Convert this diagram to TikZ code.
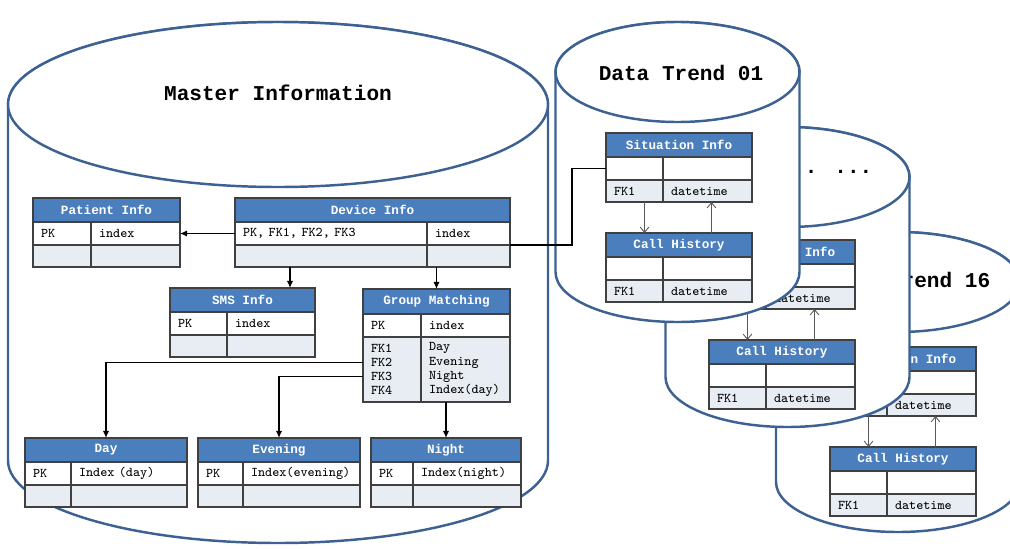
\documentclass[tikz,border=0pt]{standalone}
\usepackage{fontspec}
\newfontfamily\erdfont{Liberation Mono}
\usetikzlibrary{arrows.meta,calc}

\definecolor{headblue}{HTML}{4A7EBD}
\definecolor{rowgray}{HTML}{E8ECF3}
\definecolor{drumblue}{HTML}{3C6192}
\definecolor{gridgray}{HTML}{404040}

\newlength{\pxu}\setlength{\pxu}{0.02cm}
\newlength{\cellpad}\setlength{\cellpad}{8\pxu}

\tikzset{
  drum/.style={draw=drumblue, line width=1.4pt, fill=white},
  tabhead/.style={draw=gridgray, line width=0.6pt, fill=headblue, text=white,
    font=\erdfont\fontsize{7.2}{8}\selectfont\bfseries, minimum height=24\pxu,
    inner sep=0pt, outer sep=0pt, anchor=north west},
  tabcell/.style={draw=gridgray, line width=0.6pt, fill=white,
    font=\ttfamily\fontsize{7.6}{8}\selectfont, minimum height=23\pxu,
    inner xsep=\cellpad, inner ysep=0pt, outer sep=0pt, align=left, anchor=north west},
  rowfill/.style={fill=rowgray, minimum height=22\pxu},
  title/.style={font=\erdfont\fontsize{12}{14}\selectfont\bfseries},
  link/.style={draw=black, line width=0.85pt, -{Latex[length=4pt,width=3.6pt]}},
  plainlink/.style={draw=black, line width=0.85pt},
  fkarrow/.style={draw=black!65, line width=0.5pt, -{Straight Barb[length=3pt,width=5pt]}},
}

% centre x, top centre y, height, x radius, y radius
\newcommand{\drum}[5]{%
  \filldraw[drum] ({#1-#4},#2) -- ({#1-#4},{#2+#3})
    arc[start angle=180, end angle=360, x radius=#4\pxu, y radius=#5\pxu]
    -- ({#1+#4},#2)
    arc[start angle=0, end angle=180, x radius=#4\pxu, y radius=#5\pxu] -- cycle;
  \draw[drum] (#1,#2) ellipse[x radius=#4\pxu, y radius=#5\pxu];
}

% name, position, width, key width, title, row 1 key, row 1 value, row 2 key, row 2 value
\newcommand{\dbtable}[9]{%
  \pgfmathsetlengthmacro{\tabw}{#3*\pxu}%
  \pgfmathsetlengthmacro{\keyw}{#4*\pxu-2*\cellpad}%
  \pgfmathsetlengthmacro{\valw}{(#3-#4)*\pxu-2*\cellpad}%
  \node[tabhead, minimum width=\tabw] (#1) at #2 {#5};
  \node[tabcell, text width=\keyw] (#1-k1) at (#1.south west) {#6};
  \node[tabcell, text width=\valw] (#1-v1) at (#1-k1.north east) {#7};
  \node[tabcell, rowfill, text width=\keyw] (#1-k2) at (#1-k1.south west) {#8};
  \node[tabcell, rowfill, text width=\valw] (#1-v2) at (#1-k2.north east) {#9};
}

% prefix, drum centre x, drum top y, title x, title y, title, table shift
\newcommand{\trend}[7]{%
  \drum{#2}{#3}{200}{122}{50}
  \node[title] (#1-title) at (#4,#5) {#6};
  \begin{scope}[shift={#7}]
    \dbtable{#1-sit}{(606,133)}{146}{57}{Situation Info}{}{}{FK1}{datetime}
    \dbtable{#1-call}{(606,233)}{146}{57}{Call History}{}{}{FK1}{datetime}
  \end{scope}
  \draw[fkarrow] ([xshift=10\pxu]#1-sit-k2.south) -- ([xshift=10\pxu]#1-sit-k2.south |- #1-call.north);
  \draw[fkarrow] ([xshift=4\pxu]#1-sit-v2.south |- #1-call.north) -- ([xshift=4\pxu]#1-sit-v2.south);
}

\begin{document}
\begin{tikzpicture}[x=\pxu, y=-\pxu]
  \useasboundingbox (0,0) rectangle (1010,548);

  % master database
  \drum{278}{104.5}{356}{270}{82.5}
  \node[title] (mastertitle) at (278,93) {Master Information};

  \dbtable{pat}{(33,198)}{147}{58}{Patient Info}{PK}{index}{}{}
  \dbtable{dev}{(235,198)}{275}{192}{Device Info}{PK, FK1, FK2, FK3}{index}{}{}
  \dbtable{sms}{(170,288)}{145}{57}{SMS Info}{PK}{index}{}{}

  \node[tabhead, minimum width=147\pxu, minimum height=25\pxu] (grp) at (363,289) {Group Matching};
  \node[tabcell, text width=42\pxu] (grp-k1) at (grp.south west) {PK};
  \node[tabcell, text width=73\pxu] (grp-v1) at (grp-k1.north east) {index};
  \node[tabcell, rowfill, minimum height=65\pxu, text width=42\pxu] (grp-k2) at (grp-k1.south west) {FK1\\FK2\\FK3\\FK4};
  \node[tabcell, rowfill, minimum height=65\pxu, text width=73\pxu] (grp-v2) at (grp-k2.north east) {Day\\Evening\\Night\\ Index(day)};

  \dbtable{day}{(25,438)}{162}{46}{Day}{PK}{Index (day)}{}{}
  \dbtable{eve}{(198,438)}{162}{45}{Evening}{PK}{Index(evening)}{}{}
  \dbtable{night}{(371,438)}{150}{42}{Night}{PK}{Index(night)}{}{}

  \draw[link] (dev-k1.west) -- (pat-v1.east);
  \draw[link] (dev-k2.south -| 290,0) -- (sms.north -| 290,0);
  \draw[link] (dev-v2.south -| grp.north) -- (grp.north);
  \draw[link] ([yshift=7\pxu]grp-k2.west) -| (day.north);
  \draw[link] ([yshift=-7\pxu]grp-k2.west) -| (eve.north);
  \draw[link] (night.north |- grp-k2.south) -- (night.north);

  % data trend databases, back to front
  \trend{C}{898}{282}{908}{280}{Data Trend 16}{(224,214)}
  \trend{B}{787.5}{177}{826}{172}{... ...}{(103,107)}
  \trend{A}{677.5}{72}{681}{73}{Data Trend 01}{(0,0)}

  \draw[plainlink] (dev.east |- dev-v1.south) -- ++(62,0) |- (A-sit-k1.west);
\end{tikzpicture}
\end{document}
